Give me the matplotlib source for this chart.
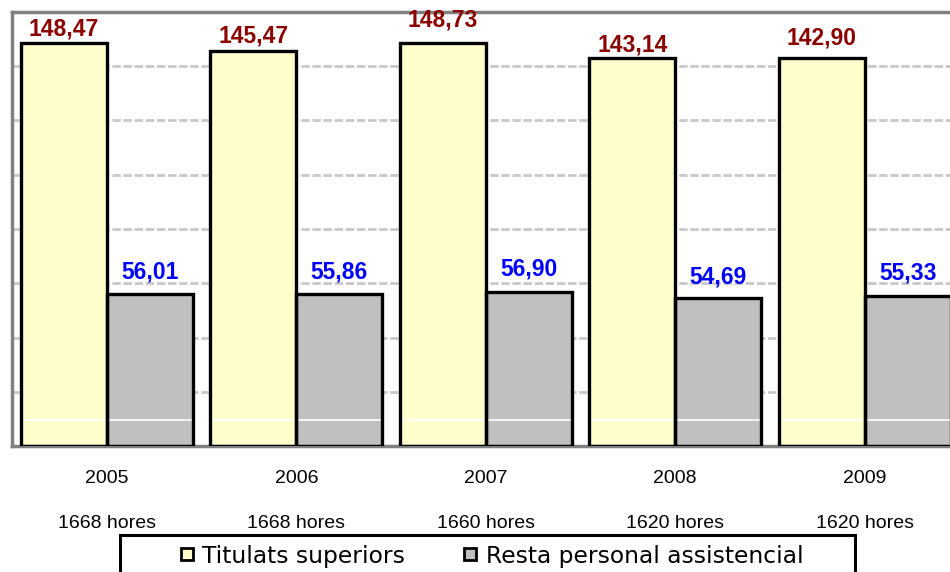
import matplotlib
matplotlib.use('Agg')
import matplotlib.pyplot as plt
from matplotlib.lines import Line2D
from matplotlib.patches import Rectangle
import numpy as np

# hores per any i valors per grup
years = ['2005', '2006', '2007', '2008', '2009']
hours = ['1668 hores', '1668 hores', '1660 hores', '1620 hores', '1620 hores']
titulats = [148.47, 145.47, 148.73, 143.14, 142.90]
resta = [56.01, 55.86, 56.90, 54.69, 55.33]
series_names = ['Titulats superiors', 'Resta personal assistencial']

# label offsets (points) - the original labels are placed by hand
red_off = [10, 11, 16, 9.5, 14.5]
blue_off = [16, 16.5, 16, 15, 16.5]

yellow = '#FFFFCC'
grey = '#C0C0C0'
dark_red = '#8B0000'

fig = plt.figure(figsize=(9.5, 5.72), dpi=100)
ax = fig.add_axes([12/950, 126/572, 947.5/950, 434/572])

x = np.arange(len(years))
w = 0.454

# faces first, then white floor line, then edges on top
ax.bar(x, titulats, width=-w, align='edge', color=yellow, zorder=2)
ax.bar(x, resta, width=w, align='edge', color=grey, zorder=2)
ax.axhline(9.6, color='white', lw=1.2, zorder=2.5)
ax.bar(x, titulats, width=-w, align='edge', fill=False, edgecolor='black', lw=2.4, zorder=3)
ax.bar(x, resta, width=w, align='edge', fill=False, edgecolor='black', lw=2.4, zorder=3)

for i in range(len(years)):
    ax.annotate(f'{titulats[i]:.2f}'.replace('.', ','), (x[i] - w/2, titulats[i]),
                xytext=(0, red_off[i]), textcoords='offset points', ha='center', va='center',
                fontsize=16.5, fontweight='bold', color=dark_red, family='Liberation Sans',
                annotation_clip=False, zorder=5)
    ax.annotate(f'{resta[i]:.2f}'.replace('.', ','), (x[i] + w/2, resta[i]),
                xytext=(0, blue_off[i]), textcoords='offset points', ha='center', va='center',
                fontsize=16.5, fontweight='bold', color='blue', family='Liberation Sans',
                annotation_clip=False, zorder=5)

ax.set_xlim(-0.5, 4.5)
ax.set_ylim(0, 160)
ax.set_yticks(np.arange(20, 160, 20))
ax.yaxis.grid(True, color='#C8C8C8', linestyle=(0, (3, 1)), lw=2, zorder=0)
ax.set_axisbelow(True)
ax.tick_params(axis='y', left=False, labelleft=False)
ax.set_xticks(x)
ax.set_xticklabels([f'{y}\n\n{h}' for y, h in zip(years, hours)],
                   fontsize=14, family='Liberation Sans', linespacing=1.41)
ax.tick_params(axis='x', length=0, pad=17.5)
for s in ['left', 'bottom', 'top']:
    ax.spines[s].set_color('#808080')
    ax.spines[s].set_linewidth(2.5)
ax.spines['right'].set_visible(False)

# legend box
fig.patches.append(Rectangle((120/950, -0.05), 735/950, 0.05 + 37/572, transform=fig.transFigure,
                             fill=False, edgecolor='black', lw=2.2))
handles = [Line2D([], [], marker='s', ls='none', markersize=9, markerfacecolor=c,
                  markeredgecolor='black', markeredgewidth=2) for c in (yellow, grey)]
fig.legend(handles, series_names, loc='center left', bbox_to_anchor=(166/950, 16/572),
           ncol=2, frameon=False, borderpad=0, handlelength=0.8, handletextpad=0.25,
           columnspacing=2.4, prop={'family': 'DejaVu Sans', 'size': 16.8})

fig.savefig('out.png', dpi=100)
